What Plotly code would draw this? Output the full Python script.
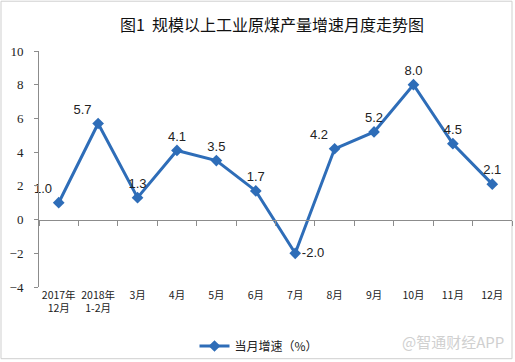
import plotly.graph_objects as go

categories = ["2017年<br>12月", "2018年<br>1-2月", "3月", "4月", "5月", "6月",
              "7月", "8月", "9月", "10月", "11月", "12月"]
values = [1.0, 5.7, 1.3, 4.1, 3.5, 1.7, -2.0, 4.2, 5.2, 8.0, 4.5, 2.1]
labels = ["1.0", "5.7", "1.3", "4.1", "3.5", "1.7", "-2.0", "4.2", "5.2", "8.0", "4.5", "2.1"]
label_pos = ["top left", "top left", "top center", "top center", "top center", "top center",
             "middle right", "top left", "top center", "top center", "top center", "top center"]
series_name = "当月增速（%）"
title = "图1  规模以上工业原煤产量增速月度走势图"
y_ticks = [-4, -2, 0, 2, 4, 6, 8, 10]

W, H = 515, 362
L, R, T, B = 39, 3, 51, 74
pw, ph = W - L - R, H - T - B

def px_x(p):
    return (p - L) / pw

def px_y(p):
    return (H - B - p) / ph

blue = "#2E6DB8"

fig = go.Figure()
fig.add_trace(go.Scatter(
    x=categories, y=values, mode="lines+markers+text",
    name=series_name, text=labels, textposition=label_pos,
    textfont=dict(family="Liberation Sans, Arial", size=13, color="#222"),
    line=dict(color=blue, width=3),
    marker=dict(symbol="diamond", size=9, color=blue),
    cliponaxis=False,
))
fig.add_trace(go.Scatter(x=categories, y=values, xaxis="x2", mode="none",
                         showlegend=False, hoverinfo="skip"))

fig.update_layout(
    width=W, height=H,
    margin=dict(l=L, r=R, t=T, b=B),
    paper_bgcolor="white", plot_bgcolor="white",
    title=dict(text=title, x=0.528, xanchor="center", y=1 - 25 / H, yanchor="middle",
               font=dict(family="Noto Sans CJK SC", size=16, color="#111")),
    xaxis=dict(type="category", showline=False, ticks="", showgrid=False,
               tickfont=dict(family="Noto Sans CJK SC", size=10.5, color="#222"),
               range=[-0.5, 11.5]),
    xaxis2=dict(type="category", overlaying="x", anchor="free",
                position=4 / 14, showline=True, linecolor="#8c8c8c", linewidth=1,
                ticks="outside", ticklen=5, tickcolor="#8c8c8c", tickson="boundaries",
                showticklabels=False, showgrid=False, range=[-0.5, 11.5]),
    yaxis=dict(range=[-4, 10], tickvals=y_ticks, showgrid=False, zeroline=False,
               showline=True, linecolor="#8c8c8c", linewidth=1,
               ticks="outside", ticklen=4, tickcolor="#8c8c8c", ticklabelstandoff=8,
               tickfont=dict(family="Liberation Serif, Times New Roman", size=13, color="#222")),
    showlegend=True,
    legend=dict(orientation="h", x=px_x(259), xanchor="center", y=px_y(346), yanchor="middle",
                font=dict(family="Noto Sans CJK SC", size=12, color="#222"),
                bgcolor="rgba(0,0,0,0)"),
)

fig.add_annotation(text="@智通财经APP", xref="paper", yref="paper",
                   x=px_x(506), y=px_y(343), xanchor="right", yanchor="middle",
                   showarrow=False,
                   font=dict(family="Noto Sans CJK SC", size=15, color="#d0d0d0"))

fig.add_shape(type="rect", xref="paper", yref="paper",
              x0=px_x(1), x1=px_x(512), y0=px_y(1), y1=px_y(360),
              line=dict(color="#cfcfcf", width=1), layer="below")

fig.write_html("out.html", config={"displayModeBar": False},
               post_script="document.body.style.margin='0';document.body.style.overflow='hidden';")
